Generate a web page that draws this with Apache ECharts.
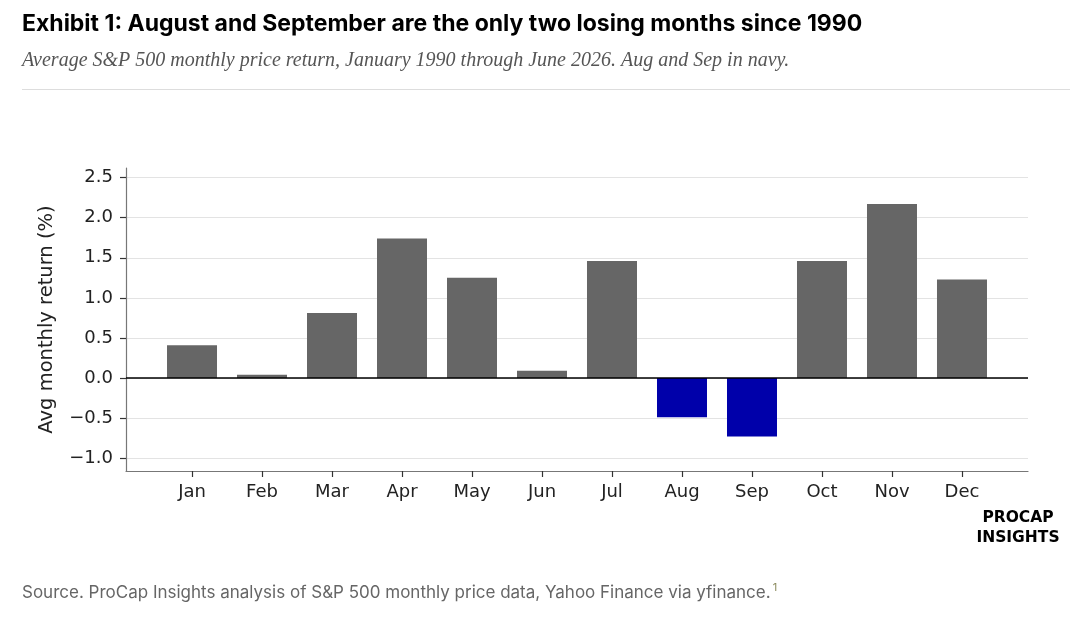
<!DOCTYPE html>
<html>
<head>
<meta charset="utf-8">
<script src="https://cdn.jsdelivr.net/npm/echarts@6/dist/echarts.min.js"></script>
<style>
html,body{margin:0;padding:0;background:#fff;}
#c{width:1086px;height:626px;}
</style>
</head>
<body>
<div id="c"></div>
<script>
const months = ['Jan','Feb','Mar','Apr','May','Jun','Jul','Aug','Sep','Oct','Nov','Dec'];
const avgReturn = [0.41, 0.04, 0.81, 1.74, 1.25, 0.09, 1.46, -0.49, -0.73, 1.46, 2.17, 1.23];
const highlightMonths = ['Aug','Sep'];
const yTicks = [-1.0, -0.5, 0.0, 0.5, 1.0, 1.5, 2.0, 2.5];
const xTicks = months.map((m, i) => i);

const chart = echarts.init(document.getElementById('c'), null, {renderer: 'canvas'});
const tickFont = 'DejaVu Sans';

chart.setOption({
  animation: false,
  backgroundColor: '#ffffff',
  grid: {left: 126, right: 58, top: 168, bottom: 155, containLabel: false, outerBoundsMode: 'none'},
  xAxis: {
    type: 'value',
    min: -0.943, max: 11.943,
    axisLine: {show: true, onZero: false, lineStyle: {color: '#777', width: 1.2}},
    axisTick: {show: true, customValues: xTicks, length: 6, lineStyle: {color: '#333', width: 1.2}},
    axisLabel: {show: true, customValues: xTicks, formatter: v => months[Math.round(v)] || '', color: '#222', fontFamily: tickFont, fontSize: 18, margin: 12},
    splitLine: {show: false}
  },
  yAxis: {
    type: 'value',
    min: -1.16, max: 2.62,
    name: 'Avg monthly return (%)',
    nameLocation: 'middle',
    nameRotate: 90,
    nameGap: 69,
    nameTextStyle: {color: '#222', fontFamily: tickFont, fontSize: 19.5},
    axisLine: {show: true, onZero: false, lineStyle: {color: '#777', width: 1.2}},
    axisTick: {show: true, customValues: yTicks, length: 6, lineStyle: {color: '#333', width: 1.2}},
    axisLabel: {show: true, customValues: yTicks, formatter: v => (v < 0 ? '\u2212' : '') + Math.abs(v).toFixed(1), color: '#222', fontFamily: tickFont, fontSize: 18, margin: 13},
    splitLine: {show: true, lineStyle: {color: '#e3e3e3', width: 1}}
  },
  series: [{
    type: 'bar',
    barWidth: 50,
    data: months.map((m, i) => ({
      value: [i, avgReturn[i]],
      itemStyle: {color: highlightMonths.includes(m) ? '#0000aa' : '#666666'}
    })),
    markLine: {
      silent: true,
      symbol: 'none',
      label: {show: false},
      lineStyle: {color: '#000', width: 1.5, type: 'solid'},
      data: [{yAxis: 0}],
      z: 5
    }
  }],
  graphic: [
    {type: 'text', left: 22, top: 13, style: {text: 'Exhibit 1: August and September are the only two losing months since 1990', font: 'bold 23px Inter', fill: '#000'}},
    {type: 'text', left: 22, top: 51, style: {text: 'Average S&P 500 monthly price return, January 1990 through June 2026. Aug and Sep in navy.', font: 'italic 20px "Liberation Serif"', fill: '#555'}},
    {type: 'line', shape: {x1: 22, y1: 89.5, x2: 1070, y2: 89.5}, style: {stroke: '#dddddd', lineWidth: 1}},
    {type: 'text', x: 1018, y: 518, style: {text: 'PROCAP', font: 'bold 15.5px "DejaVu Sans"', fill: '#000', align: 'center', verticalAlign: 'middle'}},
    {type: 'text', x: 1018, y: 538, style: {text: 'INSIGHTS', font: 'bold 15.5px "DejaVu Sans"', fill: '#000', align: 'center', verticalAlign: 'middle'}},
    {type: 'text', left: 22, top: 582, style: {
      text: '{m|Source. ProCap Insights analysis of S&P 500 monthly price data, Yahoo Finance via yfinance.}{s|1}',
      rich: {
        m: {font: '17px Inter', fill: '#666', verticalAlign: 'bottom'},
        s: {font: '11px Inter', fill: '#8a8a5c', verticalAlign: 'top', padding: [0, 0, 8, 2]}
      }
    }}
  ]
});
</script>
</body>
</html>
